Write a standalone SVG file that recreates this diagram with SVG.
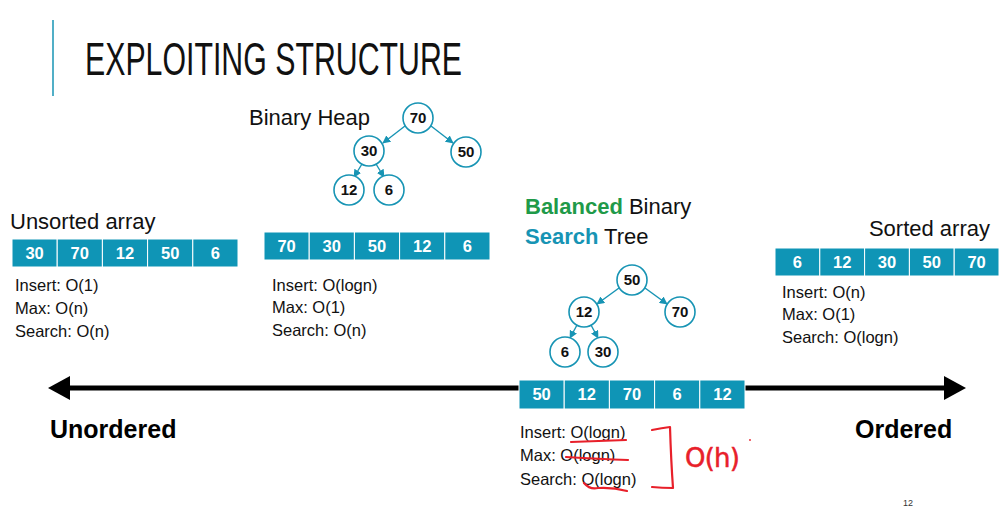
<svg xmlns="http://www.w3.org/2000/svg" width="1004" height="514" viewBox="0 0 1004 514">
  <defs>
    <marker id="tip" viewBox="0 0 10 10" refX="9" refY="5" markerWidth="8" markerHeight="8" markerUnits="userSpaceOnUse" orient="auto">
      <path d="M0,0 L10,5 L0,10 z" fill="#1794b4"/>
    </marker>
  </defs>
  <style>
    .cell { fill: #0f95b6; stroke: #ffffff; stroke-width: 1; }
    .num { font-family: "Liberation Sans", Arial, sans-serif; font-weight: bold; font-size: 16.5px; fill: #ffffff; text-anchor: middle; }
    .node circle { fill: #ffffff; stroke: #1794b4; stroke-width: 1.6; }
    .node text { font-family: "Liberation Sans", Arial, sans-serif; font-weight: bold; font-size: 15px; fill: #111111; text-anchor: middle; }
    .edge { stroke: #1794b4; stroke-width: 1.4; fill: none; marker-end: url(#tip); }
    .label { font-family: "Liberation Sans", Arial, sans-serif; font-size: 22px; fill: #111111; }
    .cost { font-family: "Liberation Sans", Arial, sans-serif; font-size: 16.5px; fill: #111111; }
    .end { font-family: "Liberation Sans", Arial, sans-serif; font-weight: bold; font-size: 25px; fill: #000000; }
    .ink { stroke: #e8202a; stroke-width: 2.2; fill: none; stroke-linecap: round; stroke-linejoin: round; }
  </style>
  <rect width="1004" height="514" fill="#ffffff"/>

  <!-- title -->
  <g id="title">
    <line x1="53" y1="20" x2="53" y2="96" stroke="#1794b4" stroke-width="1.5"/>
    <text x="85" y="75" font-family="'Liberation Sans', Arial, sans-serif" font-size="46" fill="#111111" textLength="377" lengthAdjust="spacingAndGlyphs">EXPLOITING STRUCTURE</text>
  </g>

  <!-- order axis and tree edges -->
  <g id="connectors">
    <line x1="66" y1="388" x2="948" y2="388" stroke="#000000" stroke-width="5"/>
    <path d="M48,388 L70,376 L70,400 z" fill="#000000"/>
    <path d="M966,388 L944,376 L944,400 z" fill="#000000"/>
    <!-- heap edges -->
    <line class="edge" x1="405" y1="126" x2="383" y2="143"/>
    <line class="edge" x1="431" y1="126" x2="453" y2="143"/>
    <line class="edge" x1="362" y1="164" x2="354" y2="177"/>
    <line class="edge" x1="376" y1="164" x2="384" y2="177"/>
    <!-- BST edges -->
    <line class="edge" x1="619" y1="288" x2="597" y2="304"/>
    <line class="edge" x1="645" y1="288" x2="667" y2="304"/>
    <line class="edge" x1="577" y1="325" x2="570" y2="338"/>
    <line class="edge" x1="591" y1="325" x2="598" y2="338"/>
  </g>

  <!-- unsorted array -->
  <g id="unsorted">
    <text class="label" x="10" y="229">Unsorted array</text>
    <rect class="cell" x="12" y="239" width="45.2" height="28"/>
    <rect class="cell" x="57.2" y="239" width="45.2" height="28"/>
    <rect class="cell" x="102.4" y="239" width="45.2" height="28"/>
    <rect class="cell" x="147.6" y="239" width="45.2" height="28"/>
    <rect class="cell" x="192.8" y="239" width="45.2" height="28"/>
    <text class="num" x="34.6" y="259">30</text>
    <text class="num" x="79.8" y="259">70</text>
    <text class="num" x="125" y="259">12</text>
    <text class="num" x="170.2" y="259">50</text>
    <text class="num" x="215.4" y="259">6</text>
    <text class="cost" x="15" y="291">Insert: O(1)</text>
    <text class="cost" x="15" y="314">Max: O(n)</text>
    <text class="cost" x="15" y="337">Search: O(n)</text>
  </g>

  <!-- binary heap -->
  <g id="heap">
    <text class="label" x="249" y="125">Binary Heap</text>
    <g class="node"><circle cx="418" cy="118" r="15"/><text x="418" y="123">70</text></g>
    <g class="node"><circle cx="369" cy="151" r="15"/><text x="369" y="156">30</text></g>
    <g class="node"><circle cx="466" cy="152" r="15"/><text x="466" y="157">50</text></g>
    <g class="node"><circle cx="349" cy="190" r="15"/><text x="349" y="195">12</text></g>
    <g class="node"><circle cx="389" cy="190" r="15"/><text x="389" y="195">6</text></g>
    <rect class="cell" x="264" y="232" width="45.2" height="28"/>
    <rect class="cell" x="309.2" y="232" width="45.2" height="28"/>
    <rect class="cell" x="354.4" y="232" width="45.2" height="28"/>
    <rect class="cell" x="399.6" y="232" width="45.2" height="28"/>
    <rect class="cell" x="444.8" y="232" width="45.2" height="28"/>
    <text class="num" x="286.6" y="252">70</text>
    <text class="num" x="331.8" y="252">30</text>
    <text class="num" x="377" y="252">50</text>
    <text class="num" x="422.2" y="252">12</text>
    <text class="num" x="467.4" y="252">6</text>
    <text class="cost" x="272" y="291">Insert: O(logn)</text>
    <text class="cost" x="272" y="313">Max: O(1)</text>
    <text class="cost" x="272" y="336">Search: O(n)</text>
  </g>

  <!-- balanced binary search tree -->
  <g id="bst">
    <text class="label" x="525" y="214"><tspan font-weight="bold" fill="#1f9a49">Balanced</tspan> Binary</text>
    <text class="label" x="525" y="244"><tspan font-weight="bold" fill="#1794b4">Search</tspan> Tree</text>
    <g class="node"><circle cx="632" cy="280" r="15"/><text x="632" y="285">50</text></g>
    <g class="node"><circle cx="584" cy="312" r="15"/><text x="584" y="317">12</text></g>
    <g class="node"><circle cx="680" cy="312" r="15"/><text x="680" y="317">70</text></g>
    <g class="node"><circle cx="565" cy="352" r="15"/><text x="565" y="357">6</text></g>
    <g class="node"><circle cx="603" cy="352" r="15"/><text x="603" y="357">30</text></g>
    <rect class="cell" x="519" y="380" width="45.2" height="29"/>
    <rect class="cell" x="564.2" y="380" width="45.2" height="29"/>
    <rect class="cell" x="609.4" y="380" width="45.2" height="29"/>
    <rect class="cell" x="654.6" y="380" width="45.2" height="29"/>
    <rect class="cell" x="699.8" y="380" width="45.2" height="29"/>
    <text class="num" x="541.6" y="400">50</text>
    <text class="num" x="586.8" y="400">12</text>
    <text class="num" x="632" y="400">70</text>
    <text class="num" x="677.2" y="400">6</text>
    <text class="num" x="722.4" y="400">12</text>
    <text class="cost" x="520" y="438">Insert: O(logn)</text>
    <text class="cost" x="520" y="461">Max: O(logn)</text>
    <text class="cost" x="520" y="485">Search: O(logn)</text>
  </g>

  <!-- sorted array -->
  <g id="sorted">
    <text class="label" x="990" y="236" text-anchor="end">Sorted array</text>
    <rect class="cell" x="775" y="248" width="44.8" height="28"/>
    <rect class="cell" x="819.8" y="248" width="44.8" height="28"/>
    <rect class="cell" x="864.6" y="248" width="44.8" height="28"/>
    <rect class="cell" x="909.4" y="248" width="44.8" height="28"/>
    <rect class="cell" x="954.2" y="248" width="44.8" height="28"/>
    <text class="num" x="797.4" y="268">6</text>
    <text class="num" x="842.2" y="268">12</text>
    <text class="num" x="887" y="268">30</text>
    <text class="num" x="931.8" y="268">50</text>
    <text class="num" x="976.6" y="268">70</text>
    <text class="cost" x="782" y="298">Insert: O(n)</text>
    <text class="cost" x="782" y="320">Max: O(1)</text>
    <text class="cost" x="782" y="343">Search: O(logn)</text>
  </g>

  <!-- axis ends -->
  <g id="ends">
    <text class="end" x="50" y="438">Unordered</text>
    <text class="end" x="855" y="438">Ordered</text>
  </g>

  <!-- pen annotation -->
  <g id="annotation">
    <path class="ink" d="M571,442 Q600,441 626,440"/>
    <path class="ink" d="M566,457 Q600,459 628,460"/>
    <path class="ink" d="M584,483 Q590,490 598,488 Q612,487 627,491"/>
    <path class="ink" d="M652,430 Q662,428 670,427 Q671,460 673,488 Q662,488 652,487"/>
    <text x="685" y="467" font-family="'DejaVu Sans', sans-serif" font-size="26" fill="#e8202a" stroke="#e8202a" stroke-width="0.5" letter-spacing="1" textLength="56" lengthAdjust="spacing">O(h)</text>
    <circle cx="750" cy="440" r="0.9" fill="#e8202a"/>
  </g>

  <text x="903" y="506" font-family="'Liberation Sans', Arial, sans-serif" font-size="9" fill="#333333">12</text>
</svg>
